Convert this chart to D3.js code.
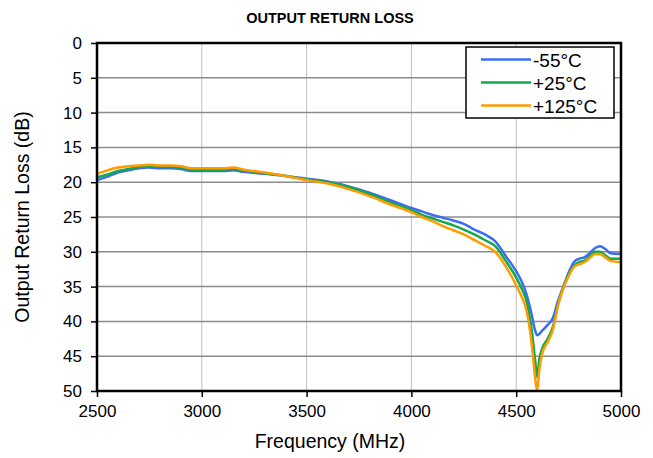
<!DOCTYPE html>
<meta charset="utf-8">
<script src="https://d3js.org/d3.v7.min.js"></script>
<style>
  body { margin: 0; background: #fff; }
  text { font-family: "Liberation Sans", Arial, sans-serif; }
</style>
<div id="chart"></div>
<script>
// data
var freqs = [2500, 2550, 2600, 2650, 2700, 2750, 2800, 2850, 2900, 2950, 3000, 3100, 3150, 3200, 3300, 3400, 3500, 3600, 3700, 3800, 3900, 4000, 4050, 4100, 4150, 4200, 4250, 4300, 4350, 4400, 4450, 4500, 4525, 4550, 4575, 4590, 4600, 4610, 4625, 4650, 4675, 4700, 4725, 4750, 4775, 4800, 4825, 4850, 4875, 4900, 4925, 4950, 5000];
var minus55 = [19.7, 19.2, 18.6, 18.3, 18.0, 17.9, 18.0, 18.0, 18.1, 18.4, 18.4, 18.4, 18.3, 18.5, 18.8, 19.1, 19.5, 19.9, 20.6, 21.5, 22.6, 23.7, 24.2, 24.7, 25.1, 25.5, 26.0, 26.8, 27.5, 28.5, 30.6, 32.8, 34.2, 36.2, 39.2, 41.3, 42.0, 41.8, 41.3, 40.5, 39.5, 37.0, 35.0, 33.0, 31.5, 31.0, 30.8, 30.2, 29.5, 29.2, 29.6, 30.2, 30.3];
var plus25 = [19.3, 18.9, 18.4, 18.1, 17.8, 17.7, 17.8, 17.8, 17.9, 18.2, 18.2, 18.2, 18.1, 18.3, 18.7, 19.1, 19.6, 20.0, 20.7, 21.7, 22.9, 24.0, 24.7, 25.2, 25.7, 26.2, 26.8, 27.5, 28.3, 29.2, 31.3, 33.7, 35.2, 37.2, 41.5, 45.5, 48.0, 45.5, 43.8, 42.5, 40.8, 37.5, 35.0, 33.3, 32.0, 31.5, 31.3, 30.6, 30.0, 30.0, 30.5, 31.0, 31.0];
var plus125 = [18.8, 18.3, 17.9, 17.7, 17.6, 17.5, 17.6, 17.6, 17.7, 18.0, 18.0, 18.0, 17.9, 18.2, 18.6, 19.1, 19.7, 20.2, 21.0, 22.0, 23.2, 24.3, 25.0, 25.6, 26.3, 26.9, 27.5, 28.3, 29.1, 30.0, 32.1, 34.8, 36.4, 38.5, 43.5, 48.0, 50.0, 47.0, 44.5, 43.0, 41.2, 37.6, 35.2, 33.5, 32.2, 31.8, 31.5, 30.9, 30.3, 30.3, 30.8, 31.3, 31.5];
var seriesNames = ["-55°C", "+25°C", "+125°C"];
var seriesColors = ["#3b6cf6", "#14a84a", "#ff9a00"];
var xTicks = [2500, 3000, 3500, 4000, 4500, 5000];
var yTicks = [0, 5, 10, 15, 20, 25, 30, 35, 40, 45, 50];

var W = 653, H = 458;
var margin = {top: 43, right: 32, bottom: 67, left: 97},
    width = W - margin.left - margin.right,
    height = H - margin.top - margin.bottom;

var svg = d3.select("#chart").append("svg")
    .attr("width", W).attr("height", H);
var g = svg.append("g")
    .attr("transform", "translate(" + margin.left + "," + margin.top + ")");

var x = d3.scaleLinear().domain([2500, 5000]).range([0, width]);
var y = d3.scaleLinear().domain([0, 50]).range([0, height]);

// grid
g.selectAll(".vgrid").data(xTicks.slice(1, -1)).enter().append("line")
    .attr("x1", d => x(d)).attr("x2", d => x(d))
    .attr("y1", 0).attr("y2", height)
    .attr("stroke", "#c0c0c0").attr("stroke-width", 1);
g.selectAll(".hgrid").data(yTicks.slice(1, -1)).enter().append("line")
    .attr("x1", 0).attr("x2", width)
    .attr("y1", d => y(d)).attr("y2", d => y(d))
    .attr("stroke", "#8c8c8c").attr("stroke-width", 1.5);

// axes
var yAxis = g.append("g")
    .call(d3.axisLeft(y).tickValues(yTicks).tickSize(6).tickPadding(9));
var xAxis = g.append("g")
    .attr("transform", "translate(0," + height + ")")
    .call(d3.axisBottom(x).tickValues(xTicks).tickFormat(d3.format("d")).tickSize(6).tickPadding(8));
[xAxis, yAxis].forEach(function(a) {
  a.select(".domain").remove();
  a.selectAll("line").attr("stroke", "#000").attr("stroke-width", 1.5);
  a.selectAll("text").attr("font-size", 17).attr("fill", "#000")
    .style("font-family", "'Liberation Sans', Arial, sans-serif");
});

// lines
var series = [minus55, plus25, plus125];
var line = d3.line()
    .x((d, i) => x(freqs[i]))
    .y(d => y(d))
    .curve(d3.curveMonotoneX);
series.forEach(function(s, k) {
  g.append("path").datum(s)
    .attr("fill", "none")
    .attr("stroke", seriesColors[k])
    .attr("stroke-width", 2.5)
    .attr("stroke-linejoin", "round")
    .attr("d", line);
});

// frame
g.append("rect").attr("width", width).attr("height", height)
    .attr("fill", "none").attr("stroke", "#000").attr("stroke-width", 2.5);

// legend
var leg = svg.append("g").attr("transform", "translate(466,47)");
leg.append("rect").attr("width", 148).attr("height", 71)
    .attr("fill", "#fff").attr("stroke", "#000").attr("stroke-width", 1.5);
seriesNames.forEach(function(n, k) {
  var yy = 12.5 + k * 23;
  leg.append("line").attr("x1", 15).attr("x2", 65).attr("y1", yy).attr("y2", yy)
    .attr("stroke", seriesColors[k]).attr("stroke-width", 2.5);
  leg.append("text").attr("x", 67).attr("y", yy + 7).attr("font-size", 19).text(n);
});

// titles
svg.append("text").attr("x", 330).attr("y", 23).attr("text-anchor", "middle")
    .attr("font-size", 14.5).attr("font-weight", "bold").text("OUTPUT RETURN LOSS");
svg.append("text").attr("x", 330).attr("y", 448).attr("text-anchor", "middle")
    .attr("font-size", 19.5).text("Frequency (MHz)");
svg.append("text").attr("transform", "translate(29," + (margin.top + height / 2) + ") rotate(-90)")
    .attr("text-anchor", "middle").attr("font-size", 19.5).text("Output Return Loss (dB)");
</script>
